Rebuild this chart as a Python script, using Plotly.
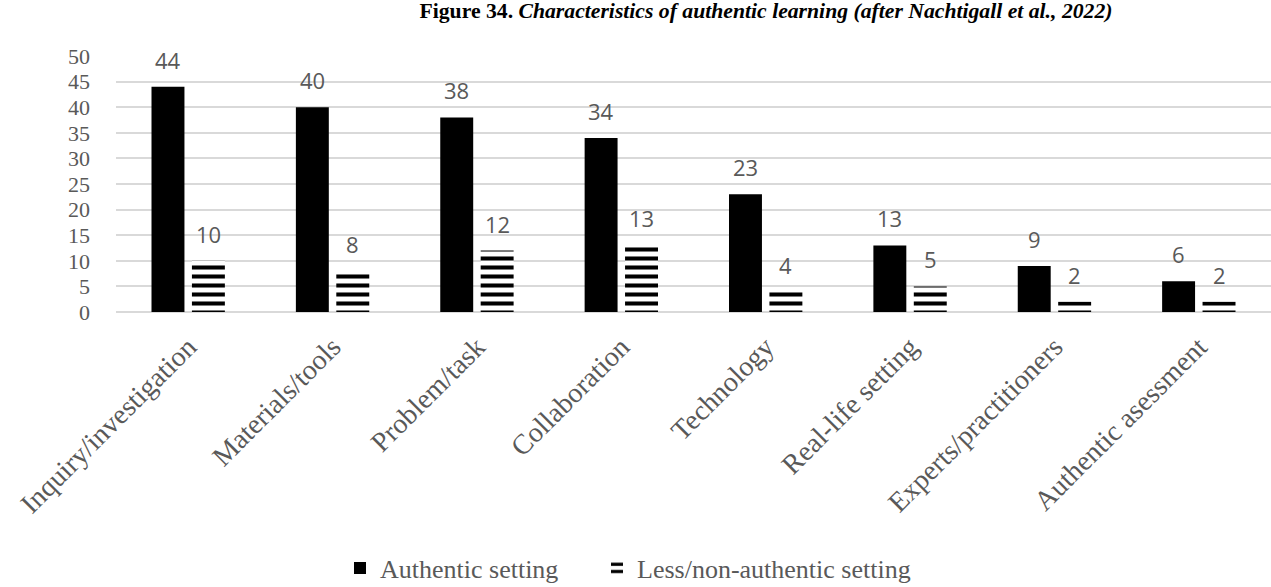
import plotly.graph_objects as go

categories = ["Inquiry/investigation", "Materials/tools", "Problem/task", "Collaboration",
              "Technology", "Real-life setting", "Experts/practitioners", "Authentic asessment"]
authentic = [44, 40, 38, 34, 23, 13, 9, 6]
less_authentic = [10, 8, 12, 13, 4, 5, 2, 2]
series_names = ["Authentic setting", "Less/non-authentic setting"]
y_ticks = [0, 5, 10, 15, 20, 25, 30, 35, 40, 45, 50]

GRAY = "#595959"

fig = go.Figure()
fig.add_trace(go.Bar(
    x=categories, y=authentic, name=series_names[0], legend="legend",
    marker=dict(color="black", line=dict(width=0)),
))
fig.add_trace(go.Bar(
    x=categories, y=less_authentic, name=series_names[1], legend="legend2",
    marker=dict(color="white", line=dict(width=0),
                pattern=dict(shape="-", fgcolor="black", bgcolor="white", fgopacity=1,
                             size=9, solidity=0.45, fillmode="replace")),
))

offset = 0.14
annotations = []
for i, (a, b) in enumerate(zip(authentic, less_authentic)):
    for xi, v in ((i - offset, a), (i + offset, b)):
        annotations.append(dict(
            x=xi, y=v, xref="x", yref="y", text=str(v), showarrow=False,
            yshift=27, yanchor="middle", xanchor="center",
            font=dict(family="Open Sans", size=22, color=GRAY)))

legend_style = dict(
    orientation="h", xanchor="left", y=-1.0, yanchor="middle",
    font=dict(family="Liberation Serif", size=26, color=GRAY),
    itemwidth=30, bgcolor="rgba(0,0,0,0)")

fig.update_layout(
    width=1271, height=587,
    margin=dict(l=116, r=0, t=56, b=275, autoexpand=False),
    paper_bgcolor="white", plot_bgcolor="white",
    barmode="group", bargap=0.44, bargroupgap=0.185,
    title=dict(
        text="<b>Figure 34.</b> <b><i>Characteristics of authentic learning (after Nachtigall et al., 2022)</i></b>",
        x=766 / 1271, xanchor="center", xref="container",
        y=1 - 10 / 587, yanchor="middle", yref="container",
        font=dict(family="Liberation Serif", size=21.7, color="black")),
    xaxis=dict(
        type="category", tickangle=-45, showgrid=False, showline=False, ticks="",
        tickfont=dict(family="Liberation Serif", size=28, color=GRAY),
        range=[-0.5, 7.5], automargin=False, ticklabelstandoff=12),
    yaxis=dict(
        range=[0, 50], tickvals=y_ticks, showgrid=True, gridcolor="#d9d9d9", gridwidth=1.5,
        zeroline=True, zerolinecolor="#d9d9d9", zerolinewidth=1.5, showline=False,
        tickfont=dict(family="Liberation Serif", size=22, color=GRAY),
        ticklabelstandoff=25, automargin=False),
    legend=dict(x=(340 - 116) / 1155, **legend_style),
    legend2=dict(x=(597 - 116) / 1155, **legend_style),
    annotations=annotations,
    showlegend=True,
)

fig.write_html("out.html")
